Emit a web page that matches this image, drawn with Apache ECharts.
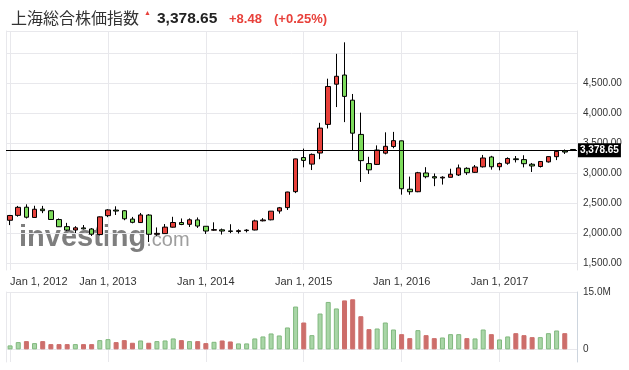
<!DOCTYPE html>
<html><head><meta charset="utf-8">
<script src="https://cdn.jsdelivr.net/npm/echarts@6/dist/echarts.min.js"></script>
<style>html,body{margin:0;padding:0;background:#fff}#c{width:629px;height:370px}</style>
</head><body><div id="c"></div>
<script>
// ---- data ----
const months = [
'2012-01','2012-02','2012-03','2012-04','2012-05','2012-06','2012-07','2012-08','2012-09','2012-10','2012-11','2012-12',
'2013-01','2013-02','2013-03','2013-04','2013-05','2013-06','2013-07','2013-08','2013-09','2013-10','2013-11','2013-12',
'2014-01','2014-02','2014-03','2014-04','2014-05','2014-06','2014-07','2014-08','2014-09','2014-10','2014-11','2014-12',
'2015-01','2015-02','2015-03','2015-04','2015-05','2015-06','2015-07','2015-08','2015-09','2015-10','2015-11','2015-12',
'2016-01','2016-02','2016-03','2016-04','2016-05','2016-06','2016-07','2016-08','2016-09','2016-10','2016-11','2016-12',
'2017-01','2017-02','2017-03','2017-04','2017-05','2017-06','2017-07','2017-08','2017-09','2017-10'];
const open = [
2212,2294,2430,2259,2398,2371,2224,2106,2050,2085,2067,1974,
2289,2382,2371,2232,2174,2299,1978,1990,2097,2175,2145,2218,
2112,2047,2053,2035,2024,2040,2050,2203,2220,2366,2423,2689,
3258,3148,3333,3810,4480,4633,4214,3643,3157,3143,3331,3441,
3536,2730,2688,3000,2939,2917,2928,2967,3078,3011,3103,3267,
3105,3163,3236,3223,3146,3108,3185,3272,3367,3392];
const high = [
2301,2451,2478,2454,2452,2382,2242,2169,2114,2133,2082,2276,
2398,2445,2381,2268,2334,2314,2093,2149,2270,2242,2244,2259,
2113,2178,2074,2146,2061,2063,2222,2248,2365,2434,2687,3239,
3407,3325,3836,4572,4986,5178,4317,4006,3270,3460,3678,3685,
3539,2940,3019,3097,2992,2946,3071,3141,3096,3133,3301,3286,
3175,3261,3283,3296,3167,3200,3276,3373,3392,3395];
const low = [
2132,2272,2242,2254,2331,2223,2100,2032,2000,2058,1950,1959,
2264,2300,2213,2161,2166,1850,1952,1987,2090,2131,2101,2085,
1984,2036,1974,1997,1991,2010,2044,2193,2211,2323,2384,2665,
3095,3049,3230,3742,4099,3848,3373,2851,2984,3133,3311,3412,
2639,2638,2680,2911,2781,2807,2928,2950,2969,3001,3091,3056,
3045,3138,3176,3094,3017,3092,3173,3215,3317,3366];
const close = [
2292,2428,2263,2396,2372,2225,2104,2048,2086,2069,1980,2269,
2385,2366,2237,2178,2301,1979,1994,2098,2175,2142,2220,2116,
2033,2056,2033,2026,2039,2048,2202,2217,2364,2420,2683,3235,
3210,3310,3748,4442,4612,4277,3664,3206,3053,3383,3445,3539,
2738,2688,3004,2938,2917,2930,2979,3085,3005,3100,3250,3104,
3159,3242,3223,3155,3117,3192,3273,3361,3349,3378.65];
// volume in millions
const volume = [
1.04,1.90,2.16,1.64,2.16,1.38,1.38,1.38,1.38,1.38,1.38,2.42,
2.68,1.90,2.42,1.73,2.33,1.73,2.16,2.33,2.86,2.42,2.16,2.16,
1.64,1.98,2.33,2.07,1.56,1.56,2.86,3.38,4.16,3.64,5.73,11.2,
7.03,3.72,9.37,12.4,10.7,12.8,13.1,8.67,5.29,5.46,7.03,5.20,
3.98,2.94,5.03,3.72,2.94,3.11,3.98,3.98,2.94,2.86,5.20,3.98,
2.60,3.38,4.24,3.72,3.20,3.20,4.24,4.94,4.24,null];
const lastPrice = 3378.65;
const priceTicks = [1500,2000,2500,3000,3500,4000,4500];
const priceGridLines = [1500,2000,2500,3000,3500,4000,4500,5000,5366.67];
const priceMin = 1383.33, priceMax = 5366.67;
const volTicks = [0, 15e6];
const volMin = -3.3e6, volMax = 15e6;
const monthNames = {'01':'Jan'};

// ---- build ----
const RED = '#e8413b', GREEN = '#7ddc5c';
const VRED = '#cd6e6b', VGREEN = '#a9d6a7', VGREEN_B = '#80b87e';
const FONT = '"Liberation Sans", Arial, sans-serif';
const candles = months.map((m,i)=>[open[i], close[i], low[i], high[i]]);
const vols = months.map((m,i)=>{
  const up = close[i] >= open[i];
  return {value: volume[i]==null ? null : volume[i]*1e6,
    itemStyle: {color: up ? VGREEN : VRED, borderColor: up ? VGREEN_B : VRED, borderWidth: 1}};
});
const isJan = (idx, val) => String(val).endsWith('-01');
const xLabel = v => monthNames[v.slice(5)] + ' 1, ' + v.slice(0,4);
const fmtPrice = v => v.toLocaleString('en-US',{minimumFractionDigits:2, maximumFractionDigits:2});
const gridColor = '#e8e8ec';

const chart = echarts.init(document.getElementById('c'));
chart.setOption({
  animation: false,
  textStyle: {fontFamily: FONT},
  title: [
    {text:'上海総合株価指数', left:6, top:5, textStyle:{fontFamily:'"Noto Sans CJK JP", sans-serif', fontSize:16, fontWeight:'normal', color:'#333'}},
    {text:'▲', left:139, top:5, textStyle:{fontSize:7, color:RED, fontWeight:'normal'}},
    {text:fmtPrice(lastPrice), left:152, top:6, textStyle:{fontSize:15.5, fontWeight:'bold', color:'#222', fontFamily:FONT}},
    {text:'+8.48', left:224, top:8, textStyle:{fontSize:13, fontWeight:'bold', color:RED, fontFamily:FONT}},
    {text:'(+0.25%)', left:269, top:8, textStyle:{fontSize:13, fontWeight:'bold', color:RED, fontFamily:FONT}}
  ],
  graphic: [{
    type:'text', left:19, top:223, z:0, silent:true,
    style:{text:'{a|investing}{b|.com}', rich:{
      a:{fontSize:29, fontWeight:'bold', fill:'#7e7e7e', fontFamily:FONT},
      b:{fontSize:20, fontWeight:'normal', fill:'#9e9e9e', fontFamily:FONT, padding:[6,0,0,0]}
    }}
  }],
  grid: [
    {left:6, right:52, top:31, height:239},
    {left:6, right:52, top:292, height:70}
  ],
  xAxis: [
    {type:'category', gridIndex:0, data:months, boundaryGap:true,
      axisLine:{show:false}, axisTick:{show:false},
      axisLabel:{interval:isJan, formatter:xLabel, fontSize:11, color:'#333', margin:6, alignMinLabel:'left'},
      splitLine:{show:true, interval:isJan, alignWithLabel:true, lineStyle:{color:gridColor}}},
    {type:'category', gridIndex:1, data:months, boundaryGap:true,
      axisLine:{show:false}, axisTick:{show:false}, axisLabel:{show:false},
      splitLine:{show:true, interval:isJan, alignWithLabel:true, lineStyle:{color:gridColor}}}
  ],
  yAxis: [
    {type:'value', gridIndex:0, position:'right', min:priceMin, max:priceMax, scale:true,
      axisLine:{show:true, lineStyle:{color:'#e3e3e6'}},
      axisTick:{show:false, customValues:priceGridLines},
      axisLabel:{customValues:priceTicks, formatter:fmtPrice, fontSize:10, color:'#333', margin:6},
      splitLine:{show:true, lineStyle:{color:gridColor}}},
    {type:'value', gridIndex:1, position:'right', min:volMin, max:volMax,
      axisLine:{show:true, lineStyle:{color:'#cdd5de'}},
      axisTick:{show:false, customValues:volTicks},
      axisLabel:{customValues:volTicks, fontSize:10, color:'#333', margin:6,
        formatter: v => v===0 ? '0' : (v/1e6).toFixed(1)+'M'},
      splitLine:{show:true, lineStyle:{color:gridColor}}},
    {type:'value', gridIndex:0, position:'left', axisLine:{show:true, lineStyle:{color:gridColor}},
      axisLabel:{show:false}, axisTick:{show:false}, splitLine:{show:false}},
    {type:'value', gridIndex:1, position:'left', axisLine:{show:true, lineStyle:{color:gridColor}},
      axisLabel:{show:false}, axisTick:{show:false}, splitLine:{show:false}}
  ],
  series: [
    {type:'candlestick', xAxisIndex:0, yAxisIndex:0, data:candles, barWidth:5, z:3,
      itemStyle:{color:RED, color0:GREEN, borderColor:'#000', borderColor0:'#000', borderWidth:1},
      markLine:{silent:true, symbol:['none','none'], animation:false,
        lineStyle:{color:'#000', width:1, type:'solid'},
        label:{position:'end', distance:1, formatter: () => fmtPrice(lastPrice), backgroundColor:'#000', color:'#fff',
          fontSize:10, fontWeight:'bold', padding:[2,2,2,2]},
        data:[{yAxis:lastPrice}]}},
    {type:'bar', xAxisIndex:1, yAxisIndex:1, data:vols, barWidth:5}
  ]
});
</script></body></html>
